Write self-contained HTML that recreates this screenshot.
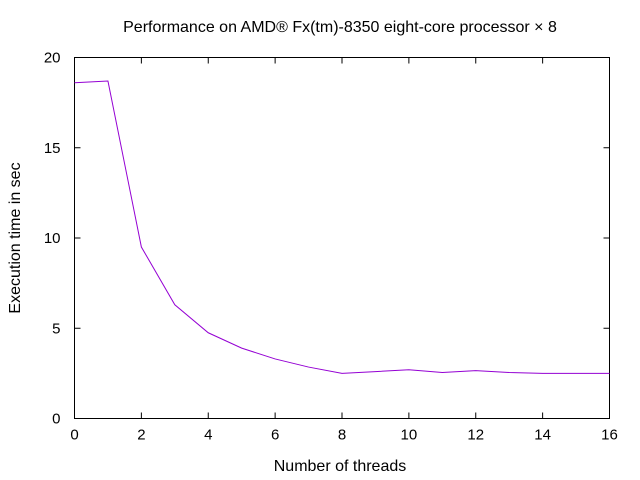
<!DOCTYPE html>
<html><head><meta charset="utf-8"><style>
body{margin:0;background:#fff;}
svg{display:block;font-family:"Liberation Sans",sans-serif;}
</style></head><body>
<svg id="chart" width="640" height="480">
<rect x="0" y="0" width="640" height="480" fill="#fff"/>
<text x="340" y="32" font-size="16" text-anchor="middle">Performance on AMD® Fx(tm)-8350 eight-core processor × 8</text>
<text x="340" y="471" font-size="16" text-anchor="middle">Number of threads</text>
<text x="20" y="238" font-size="16" text-anchor="middle" transform="rotate(-90 20 238)">Execution time in sec</text>
<g id="axes"></g>
<rect x="74.5" y="57.5" width="535" height="361" fill="none" stroke="#000" stroke-width="1"/>
<polyline id="series" fill="none" stroke="#9400d3" stroke-width="1"/>
</svg>
<script>
const threads=[0,1,2,3,4,5,6,7,8,9,10,11,12,13,14,15,16];
const times=[18.6,18.7,9.5,6.3,4.75,3.9,3.3,2.85,2.5,2.6,2.7,2.55,2.65,2.55,2.5,2.5,2.5];
const xTicks=[0,2,4,6,8,10,12,14,16];
const yTicks=[0,5,10,15,20];
const L=74.5,R=609.5,T=57.5,B=418.5;
const sx=v=>L+(v-0)/(16-0)*(R-L);
const sy=v=>B-(v-0)/(20-0)*(B-T);
const ns="http://www.w3.org/2000/svg";
const g=document.getElementById('axes');
function line(x1,y1,x2,y2){const l=document.createElementNS(ns,'line');l.setAttribute('x1',x1);l.setAttribute('y1',y1);l.setAttribute('x2',x2);l.setAttribute('y2',y2);l.setAttribute('stroke','#000');g.appendChild(l);return l;}
xTicks.forEach(v=>{
 const x=sx(v);
 const a=line(x,B,x,B-6);
 
 
 const b=line(x,T,x,T+6);
 
 
 const t=document.createElementNS(ns,'text');t.setAttribute('x',x);t.setAttribute('y',B+21);t.setAttribute('font-size','15');t.setAttribute('text-anchor','middle');t.textContent=v;
 
 
 g.appendChild(t);
});
yTicks.forEach(v=>{
 const y=sy(v);
 const a=line(L,y,L+6,y);
 
 
 const b=line(R,y,R-6,y);
 
 
 const t=document.createElementNS(ns,'text');t.setAttribute('x',L-14);t.setAttribute('y',y+5);t.setAttribute('font-size','15');t.setAttribute('text-anchor','end');t.textContent=v;
 
 
 g.appendChild(t);
});
document.getElementById('series').setAttribute('points',threads.map((x,i)=>sx(x)+','+sy(times[i])).join(' '));
</script>
</body></html>
